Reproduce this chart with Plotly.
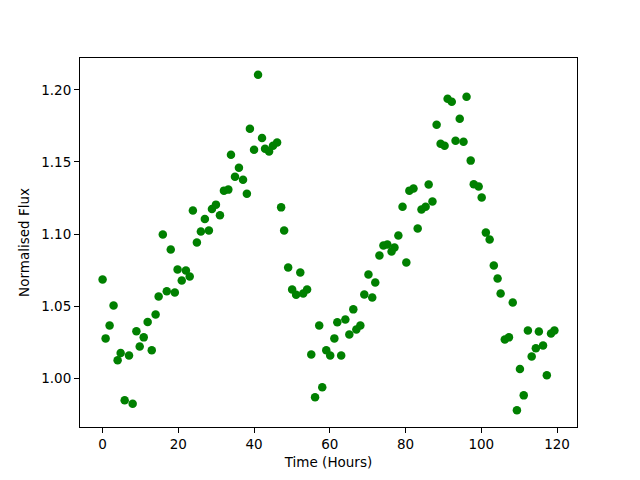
import plotly.graph_objects as go

# Time (hours) and normalised flux
time_hours = [
    0.0, 0.8, 1.85, 2.9, 3.97, 4.77, 5.83, 6.98, 7.94, 8.93,
    9.8, 10.86, 11.9, 12.98, 14.0, 14.8, 15.9, 16.95, 18.0, 19.07,
    19.8, 20.9, 22.0, 23.0, 23.84, 24.9, 25.95, 27.0, 28.07, 28.87,
    29.93, 30.99, 32.04, 33.2, 33.9, 34.96, 36.0, 37.08, 38.1, 38.9,
    39.99, 41.05, 42.1, 42.9, 43.96, 45.0, 46.08, 47.14, 47.94, 49.0,
    50.05, 51.1, 52.2, 52.97, 54.0, 55.1, 56.1, 57.2, 58.0, 59.06,
    60.1, 61.2, 61.97, 63.0, 64.1, 65.15, 66.2, 67.0, 68.06, 69.1,
    70.2, 71.2, 72.0, 73.1, 74.15, 75.2, 76.3, 77.07, 78.1, 79.2,
    80.2, 81.0, 82.1, 83.2, 84.2, 85.3, 86.1, 87.1, 88.2, 89.25,
    90.3, 91.1, 92.2, 93.2, 94.3, 95.3, 96.1, 97.2, 98.0, 99.3,
    100.1, 101.2, 102.2, 103.3, 104.3, 105.1, 106.2, 107.3, 108.3, 109.4,
    110.2, 111.2, 112.3, 113.3, 114.4, 115.2, 116.3, 117.3, 118.4, 119.3,
]
flux = [
    1.0685, 1.0277, 1.0367, 1.0505, 1.0125, 1.0175, 0.9848, 1.0159, 0.9824, 1.0327,
    1.0221, 1.0284, 1.0390, 1.0194, 1.0443, 1.0567, 1.0997, 1.0604, 1.0893, 1.0595,
    1.0754, 1.0678, 1.0747, 1.0706, 1.1163, 1.0941, 1.1017, 1.1105, 1.1024, 1.1174,
    1.1204, 1.1130, 1.1301, 1.1308, 1.1550, 1.1398, 1.1460, 1.1377, 1.1280, 1.1730,
    1.1585, 1.2104, 1.1665, 1.1592, 1.1573, 1.1612, 1.1635, 1.1185, 1.1024, 1.0768,
    1.0616, 1.0579, 1.0733, 1.0588, 1.0616, 1.0166, 0.9869, 1.0367, 0.9938, 1.0194,
    1.0159, 1.0277, 1.0388, 1.0159, 1.0408, 1.0304, 1.0478, 1.0339, 1.0367, 1.0581,
    1.0720, 1.0560, 1.0664, 1.0851, 1.0920, 1.0927, 1.0879, 1.0907, 1.0990, 1.1190,
    1.0803, 1.1301, 1.1315, 1.1038, 1.1170, 1.1190, 1.1343, 1.1225, 1.1758, 1.1626,
    1.1612, 1.1938, 1.1917, 1.1647, 1.1799, 1.1640, 1.1952, 1.1509, 1.1345, 1.1329,
    1.1253, 1.1010, 1.0962, 1.0782, 1.0692, 1.0588, 1.0270, 1.0284, 1.0526, 0.9779,
    1.0064, 0.9882, 1.0332, 1.0152, 1.0208, 1.0325, 1.0228, 1.0021, 1.0311, 1.0332,
]

x_ticks = [0, 20, 40, 60, 80, 100, 120]
y_ticks = [1.00, 1.05, 1.10, 1.15, 1.20]

fig = go.Figure()
fig.add_trace(go.Scatter(
    x=time_hours, y=flux,
    mode='markers',
    marker=dict(color='green', size=8.5, line=dict(width=0)),
    showlegend=False,
))

# matplotlib-style 5% padding around the data
xpad = (max(time_hours) - min(time_hours)) * 0.05
ypad = (max(flux) - min(flux)) * 0.05

axis_style = dict(showline=True, linecolor='black', linewidth=1, mirror=True,
                  ticks='outside', ticklen=5, tickwidth=1, tickcolor='black',
                  showgrid=False, zeroline=False, automargin=False,
                  tickfont=dict(size=13.5, color='black'))

fig.update_xaxes(range=[min(time_hours) - xpad, max(time_hours) + xpad],
                 tickvals=x_ticks, title_text='Time (Hours)',
                 title_font=dict(size=13.5, color='black'), title_standoff=6, **axis_style)
fig.update_yaxes(range=[min(flux) - ypad, max(flux) + ypad],
                 tickvals=y_ticks, tickformat='.2f', title_text='Normalised Flux',
                 title_font=dict(size=13.5, color='black'), title_standoff=8, **axis_style)

# page body adds an 8px offset, so margins are shifted to keep the frame in place
fig.update_layout(width=640, height=480,
                  margin=dict(l=72, r=71, t=50, b=61, autoexpand=False),
                  paper_bgcolor='white', plot_bgcolor='white',
                  font_family='DejaVu Sans', font_color='black')

fig.write_html("out.html")
